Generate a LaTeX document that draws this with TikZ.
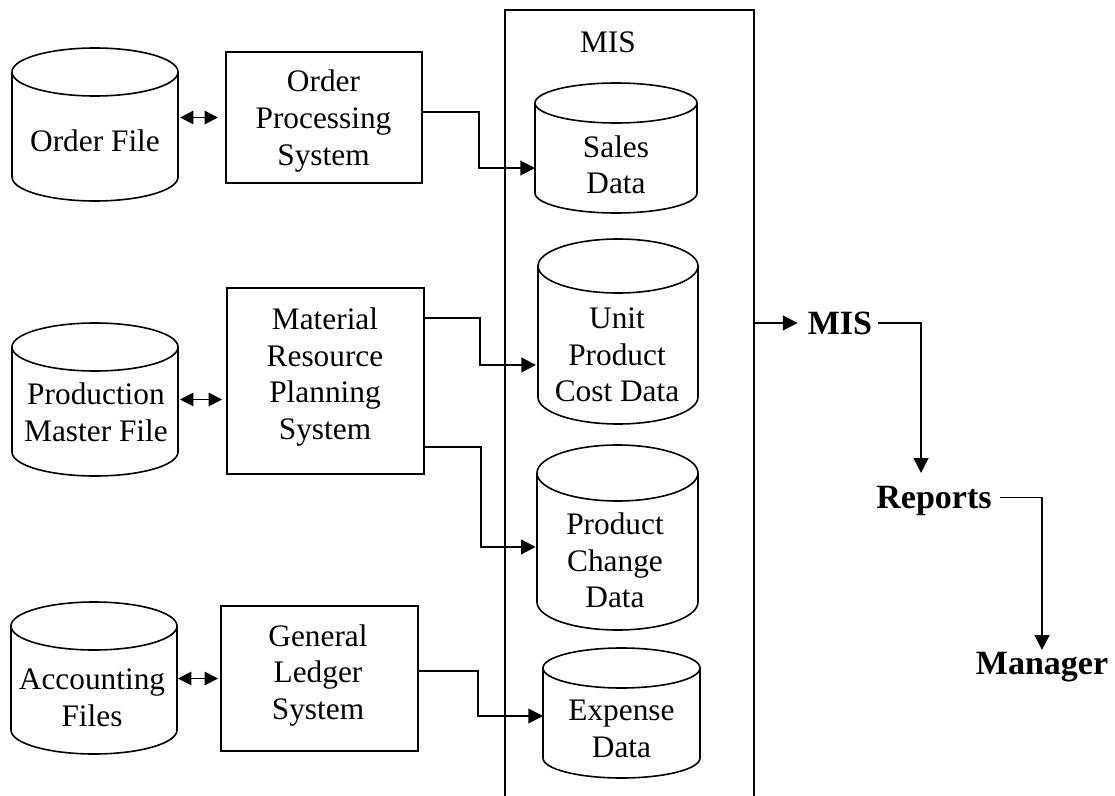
\documentclass[tikz,border=0pt]{standalone}
\usepackage{fontspec}
\setmainfont{Liberation Serif}
\usetikzlibrary{arrows.meta,calc}
\newcommand\myreg{\fontsize{23.5}{27.4}\selectfont}
\newcommand\mybold{\fontsize{25.5}{29}\selectfont\bfseries}
\tikzset{
  cylbox/.style={inner sep=0pt, outer sep=0pt},
  cylline/.style={line width=1.2pt},
  sysbox/.style={draw, line width=1.4pt, inner sep=0pt, outer sep=0pt},
  txt/.style={font=\myreg, align=center, inner sep=0pt},
  boldtxt/.style={font=\mybold, inner sep=0pt, text height=17pt, text depth=0pt},
  ln/.style={line width=1.4pt},
  arr/.style={line width=1.4pt, -{Triangle[length=11pt,width=11pt]}},
  dbl/.style={line width=1.4pt, {Triangle[length=10pt,width=10pt]}-{Triangle[length=10pt,width=10pt]}},
}
\newcommand\mkcyl[6]{%
  \node[cylbox, minimum width=#3, minimum height=#4] (#1) at #2 {};
  \draw[cylline] ([yshift=-#6]#1.north) ellipse [x radius=#5, y radius=#6];
  \draw[cylline] ([yshift=-#6]#1.north west) -- ([yshift=#6]#1.south west)
     arc [start angle=180, end angle=360, x radius=#5, y radius=#6]
     -- ([yshift=-#6]#1.north east);
}
\begin{document}
\begin{tikzpicture}[x=0.75pt, y=-0.75pt]
\useasboundingbox (0,0) rectangle (1115,796);

% left cylinders
\mkcyl{of}{(95,124.5)}{124.5pt}{114.75pt}{62.25pt}{18pt}
\node[txt] (oft) at (95,141) {Order File};
\mkcyl{pm}{(95,399.5)}{124.5pt}{114.75pt}{62.25pt}{18pt}
\node[txt] (pmt) at (96,412.5) {Production\\Master File};
\mkcyl{af}{(94,678)}{124.5pt}{114pt}{62.25pt}{18pt}
\node[txt] (aft) at (92,698) {Accounting\\Files};

% system boxes
\node[sysbox, minimum width=147pt, minimum height=98.25pt] (opt) at (324,117.5) {};
\node[txt] (optt) at (323.5,121) {Order\\Processing\\System};
\node[sysbox, minimum width=147.75pt, minimum height=139.5pt] (mrp) at (325.5,381) {};
\node[txt] (mrpt) at (325,377) {Material\\Resource\\Planning\\System};
\node[sysbox, minimum width=147.75pt, minimum height=108.75pt] (gl) at (319.5,678.5) {};
\node[txt] (glt) at (318,675.5) {General\\Ledger\\System};

% MIS box
\node[inner sep=0pt, outer sep=0pt, minimum width=186.75pt, minimum height=589.5pt] (misbox) at (629.5,403) {};
\draw[ln] (misbox.south west) -- (misbox.north west) -- (misbox.north east) -- (misbox.south east);
\node[txt] (mislabel) at (608,42) {MIS};

% MIS cylinders
\mkcyl{sd}{(616,148)}{121.5pt}{97.5pt}{60.75pt}{15pt}
\node[txt] (sdt) at (616,165) {Sales\\Data};
\mkcyl{up}{(618,331.5)}{120pt}{138.75pt}{60pt}{20.25pt}
\node[txt] (upt) at (617,355) {Unit\\Product\\Cost Data};
\mkcyl{pc}{(617.5,537.5)}{120.75pt}{138.75pt}{60.375pt}{21pt}
\node[txt] (pct) at (615,560.5) {Product\\Change\\Data};
\mkcyl{ed}{(621.5,713)}{117.75pt}{97.5pt}{58.875pt}{15pt}
\node[txt] (edt) at (621.5,729) {Expense\\Data};

% right outputs
\node[boldtxt] (misout) at (840,323) {MIS};
\node[boldtxt] (rep) at (934,497.5) {Reports};
\node[boldtxt] (mgr) at (1042,663.5) {Manager};

% double arrows
\draw[dbl, shorten <=1.5pt, shorten >=6pt] (of.east |- opt.west) -- (opt.west);
\draw[dbl, shorten <=1.5pt, shorten >=3.75pt] (pm.east) -- (pm.east -| mrp.west);
\draw[dbl, shorten <=0.75pt, shorten >=2.25pt] (af.east |- gl.west) -- (gl.west);

% connectors into MIS
\draw[arr] ([yshift=4.1pt]opt.east) -- ++(57,0) |- ([yshift=-15pt]sd.west);
\draw[arr, shorten >=1.5pt] ([yshift=47.25pt]mrp.east) -- ++(56,0) |- ([yshift=-25.1pt]up.west);
\draw[arr, shorten >=1pt] ([yshift=-49.5pt]mrp.east) -- ++(57,0) |- ([yshift=-7.1pt]pc.west);
\draw[arr] ([yshift=5.6pt]gl.east) -- ++(60,0) |- ([yshift=-2.25pt]ed.west);

% outputs
\draw[arr, shorten >=7.5pt] (misbox.east |- misout.west) -- (misout.west);
\draw[arr, shorten <=4.5pt, shorten >=9.75pt] (misout.east) -| ([xshift=-9.75pt]rep.north);
\draw[arr, shorten <=6pt, shorten >=1.5pt] (rep.east) -| (mgr.north);
\end{tikzpicture}
\end{document}
